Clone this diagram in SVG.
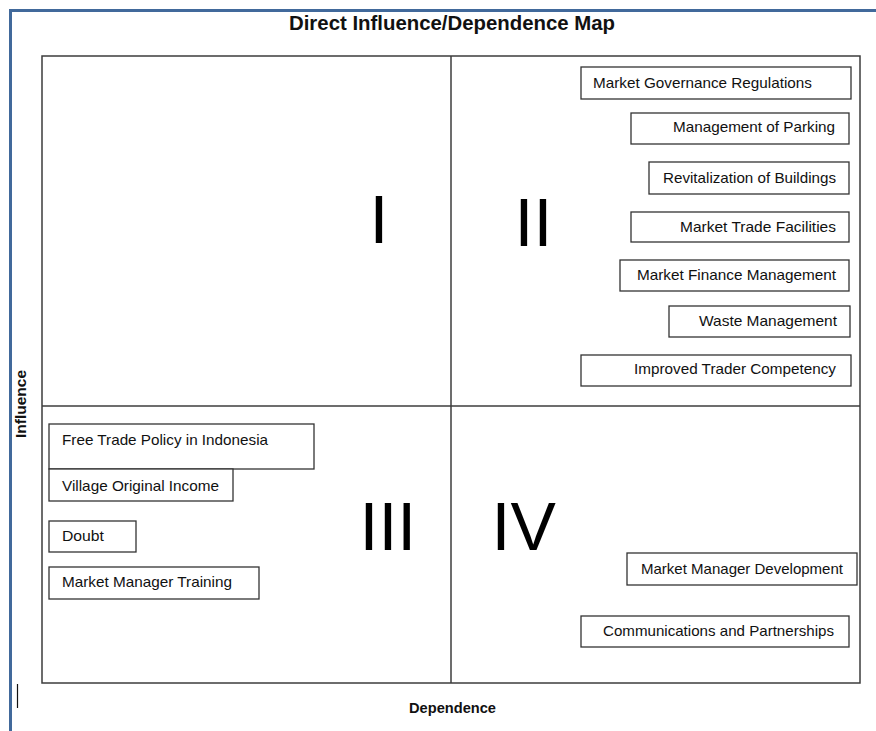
<svg xmlns="http://www.w3.org/2000/svg" width="876" height="731" viewBox="0 0 876 731">
<style>
.frame{fill:none;stroke:#41699b;stroke-width:3}
.plot{fill:none;stroke:#3c3c3c;stroke-width:1.5}
.box{fill:#ffffff;stroke:#333333;stroke-width:1.3}
.lbl{font-family:"Liberation Sans",Arial,sans-serif;font-size:14.5px;fill:#111111}
.ttl{font-family:"Liberation Sans",Arial,sans-serif;font-size:20px;font-weight:bold;fill:#111111}
.ax{font-family:"Liberation Sans",Arial,sans-serif;font-size:14.5px;font-weight:bold;fill:#111111}
.rom{font-family:"Liberation Sans",Arial,sans-serif;font-size:68px;fill:#000000}
</style>
<rect width="876" height="731" fill="#ffffff"/>
<g id="frame">
<line class="frame" x1="10.5" y1="10.5" x2="876" y2="10.5"/>
<line class="frame" x1="10.5" y1="9" x2="10.5" y2="731"/>
<line x1="17.5" y1="684" x2="17.5" y2="708" stroke="#111" stroke-width="1.2"/>
</g>
<text class="ttl" x="452" y="30" text-anchor="middle" textLength="326" lengthAdjust="spacingAndGlyphs">Direct Influence/Dependence Map</text>
<g id="quadrants">
<rect class="plot" x="42" y="56" width="818" height="627"/>
<line class="plot" x1="451" y1="56" x2="451" y2="683"/>
<line class="plot" x1="42" y1="406" x2="860" y2="406"/>
</g>
<text class="ax" transform="translate(26,404) rotate(-90)" text-anchor="middle" textLength="68" lengthAdjust="spacingAndGlyphs">Influence</text>
<text class="ax" x="452.5" y="713" text-anchor="middle" textLength="87" lengthAdjust="spacingAndGlyphs">Dependence</text>
<g id="numerals">
<text class="rom" x="369.5" y="243">I</text>
<text class="rom" x="514.5" y="246">II</text>
<text class="rom" x="359.5" y="550">III</text>
<text class="rom" x="491.5" y="550">IV</text>
</g>
<g id="n1"><rect class="box" x="581" y="67" width="270" height="32"/><text class="lbl" x="593" y="88" textLength="219" lengthAdjust="spacingAndGlyphs">Market Governance Regulations</text></g>
<g id="n2"><rect class="box" x="631" y="113" width="218" height="31"/><text class="lbl" x="835" y="132" text-anchor="end" textLength="162" lengthAdjust="spacingAndGlyphs">Management of Parking</text></g>
<g id="n3"><rect class="box" x="649" y="162" width="200" height="32"/><text class="lbl" x="836" y="183" text-anchor="end" textLength="173" lengthAdjust="spacingAndGlyphs">Revitalization of Buildings</text></g>
<g id="n4"><rect class="box" x="631" y="212" width="218" height="30"/><text class="lbl" x="836" y="232" text-anchor="end" textLength="156" lengthAdjust="spacingAndGlyphs">Market Trade Facilities</text></g>
<g id="n5"><rect class="box" x="620" y="260" width="229" height="31"/><text class="lbl" x="836" y="280" text-anchor="end" textLength="199" lengthAdjust="spacingAndGlyphs">Market Finance Management</text></g>
<g id="n6"><rect class="box" x="669" y="306" width="181" height="31"/><text class="lbl" x="837" y="326" text-anchor="end" textLength="138" lengthAdjust="spacingAndGlyphs">Waste Management</text></g>
<g id="n7"><rect class="box" x="581" y="355" width="270" height="31"/><text class="lbl" x="836" y="374" text-anchor="end" textLength="202" lengthAdjust="spacingAndGlyphs">Improved Trader Competency</text></g>
<g id="n8"><rect class="box" x="49" y="424" width="265" height="45"/><text class="lbl" x="62" y="445" textLength="206" lengthAdjust="spacingAndGlyphs">Free Trade Policy in Indonesia</text></g>
<g id="n9"><rect class="box" x="49" y="469" width="184" height="32"/><text class="lbl" x="62" y="491" textLength="157" lengthAdjust="spacingAndGlyphs">Village Original Income</text></g>
<g id="n10"><rect class="box" x="49" y="521" width="87" height="31"/><text class="lbl" x="62" y="541" textLength="42" lengthAdjust="spacingAndGlyphs">Doubt</text></g>
<g id="n11"><rect class="box" x="49" y="567" width="210" height="32"/><text class="lbl" x="62" y="587" textLength="170" lengthAdjust="spacingAndGlyphs">Market Manager Training</text></g>
<g id="n12"><rect class="box" x="627" y="553" width="230" height="32"/><text class="lbl" x="843" y="574" text-anchor="end" textLength="202" lengthAdjust="spacingAndGlyphs">Market Manager Development</text></g>
<g id="n13"><rect class="box" x="581" y="616" width="268" height="31"/><text class="lbl" x="834" y="636" text-anchor="end" textLength="231" lengthAdjust="spacingAndGlyphs">Communications and Partnerships</text></g>
</svg>
